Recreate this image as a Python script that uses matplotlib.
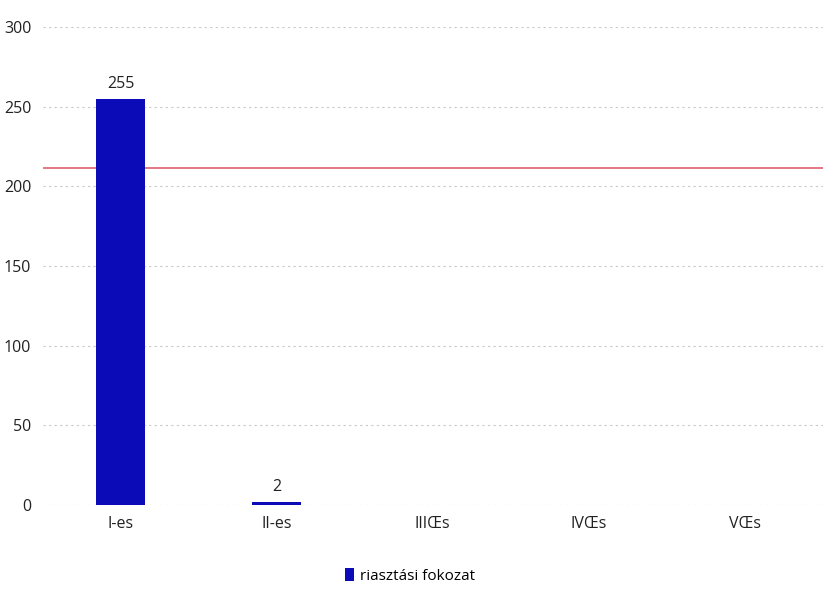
import matplotlib
matplotlib.use("Agg")
import matplotlib.pyplot as plt

categories = ["I-es", "II-es", "IIIŒs", "IVŒs", "VŒs"]
values = [255, 2, 0, 0, 0]
labels_shown = ["255", "2", "", "", ""]
series_name = "riasztási fokozat"
threshold = 211.5
yticks = [0, 50, 100, 150, 200, 250, 300]

plt.rcParams['font.family'] = ['Open Sans', 'DejaVu Sans']

fig = plt.figure(figsize=(8.29, 5.91), dpi=100)
ax = fig.add_axes([0.0513, 0.1455, 0.941, 0.8085])

x = list(range(len(categories)))
bar_color = "#0b0bb8"
bars = ax.bar(x, values, width=0.314, color=bar_color, label=series_name, zorder=3)
for xi, v, t in zip(x, values, labels_shown):
    if t:
        ax.text(xi, v + 4, t, ha="center", va="bottom", fontsize=11.5, color="#222222")

ax.axhline(threshold, color="#e06070", lw=1.2, zorder=2)

ax.set_xlim(-0.5, len(categories) - 0.5)
ax.set_ylim(0, 300)
ax.set_yticks(yticks)
ax.set_xticks(x)
ax.set_xticklabels(categories, fontsize=11.5, color="#222222")
ax.tick_params(axis="y", labelsize=11.5, colors="#222222", length=0, pad=8)
ax.tick_params(axis="x", length=0, pad=8)
ax.yaxis.grid(True, color="#c8c8c8", linestyle=(0, (2, 3)), lw=0.8, zorder=0)
for s in ax.spines.values():
    s.set_visible(False)

fig.legend(handles=[bars], labels=[series_name], loc="center", bbox_to_anchor=(0.495, 0.025),
           frameon=False, fontsize=11, handlelength=0.6, handleheight=0.9, handletextpad=0.4)

fig.savefig("out.png", dpi=100, facecolor="white")
